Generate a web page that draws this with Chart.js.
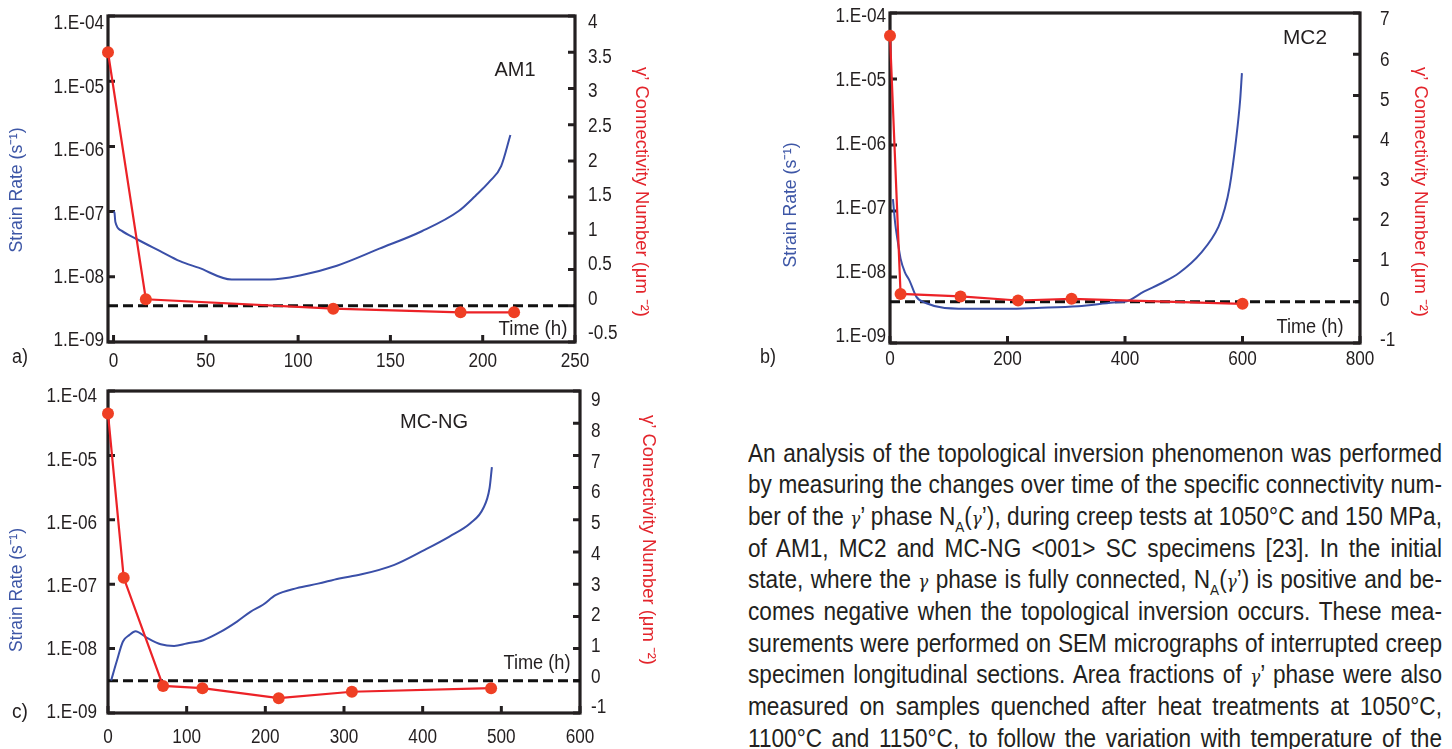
<!DOCTYPE html>
<html lang="en">
<head>
<meta charset="utf-8">
<title>Strain rate and γ’ connectivity number versus time</title>
<script src="https://cdn.jsdelivr.net/npm/chart.js@4.4.1/dist/chart.umd.min.js"></script>
<style>
  html, body { margin:0; padding:0; background:#fff; }
  body { width:1452px; height:749px; position:relative; overflow:hidden; }
  .panel { position:absolute; }
  .panel canvas { display:block; }
  #para { position:absolute; left:748px; top:0; width:694px; color:#231f20; }
  .pline { position:absolute; left:0; height:32px; line-height:32px; text-align:justify; text-align-last:justify; transform-origin:0 0; white-space:nowrap; }
  .g { font-family:"DejaVu Serif","Liberation Serif",serif; font-style:italic; font-size:0.74em; }
  sub { font-size:0.6em; vertical-align:-0.45em; line-height:0; }
</style>
</head>
<body>
<div class="panel" style="left:0;top:0"><canvas id="chartA" width="660" height="372"></canvas></div>
<div class="panel" style="left:760px;top:0"><canvas id="chartB" width="692" height="372"></canvas></div>
<div class="panel" style="left:0;top:375px"><canvas id="chartC" width="660" height="374"></canvas></div>
<div id="para"></div>
<script>
// ================= DATA =================
const alloyNames = ['AM1', 'MC2', 'MC-NG'];
const panelLetters = ['a)', 'b)', 'c)'];
const strainTitle = 'Strain Rate (s⁻¹)';
const connTitle = 'γ’ Connectivity Number (μm ⁻²)';
const timeTitle = 'Time (h)';

const rateTicks = [1e-9, 1e-8, 1e-7, 1e-6, 1e-5, 1e-4];
const rateTickLabels = ['1.E-09', '1.E-08', '1.E-07', '1.E-06', '1.E-05', '1.E-04'];

// a) AM1
const am1Time = [0, 0.5, 1, 4.3, 12.4, 25, 36, 46, 64, 85, 101, 121, 144, 167, 187, 196, 204, 210, 215];
const am1StrainRate = [1.0e-7, 9.6e-8, 6.9e-8, 5.1e-8, 3.8e-8, 2.5e-8, 1.74e-8, 1.38e-8, 9.1e-9, 9.1e-9, 1.05e-8, 1.48e-8, 2.7e-8, 5.0e-8, 1.02e-7, 1.74e-7, 2.95e-7, 5.0e-7, 1.5e-6];
const am1ConnTime = [-3, 17.5, 119, 188, 217];
const am1Conn = [3.5, 0.09, -0.04, -0.09, -0.09];
const am1TimeTicks = [0, 50, 100, 150, 200, 250];

// b) MC2
const mc2Time = [5, 9, 13, 18, 25, 33, 45, 62, 93, 150, 200, 250, 320, 380, 403, 432, 460, 492, 529, 559, 570, 578, 589, 596, 599];
const mc2StrainRate = [1.51e-7, 6.3e-8, 3.55e-8, 1.9e-8, 1.2e-8, 8.9e-9, 5.0e-9, 4.0e-9, 3.4e-9, 3.3e-9, 3.3e-9, 3.4e-9, 3.6e-9, 4.1e-9, 4.3e-9, 6.0e-9, 7.9e-9, 1.15e-8, 2.3e-8, 5.75e-8, 1.1e-7, 2.3e-7, 1.2e-6, 4.8e-6, 1.23e-5];
const mc2ConnTime = [0, 18, 120, 218, 309, 600];
const mc2Conn = [6.45, 0.19, 0.13, 0.03, 0.07, -0.05];
const mc2TimeTicks = [0, 200, 400, 600, 800];

// c) MC-NG
const mcngTime = [4, 11, 19, 27, 35, 48, 67, 84, 100, 121, 143, 164, 181, 197, 213, 240, 267, 294, 321, 364, 402, 434, 461, 477, 485, 488];
const mcngStrainRate = [3.2e-9, 6.3e-9, 1.29e-8, 1.62e-8, 1.86e-8, 1.51e-8, 1.17e-8, 1.1e-8, 1.2e-8, 1.35e-8, 1.82e-8, 2.63e-8, 3.72e-8, 4.79e-8, 6.76e-8, 8.7e-8, 1.02e-7, 1.23e-7, 1.41e-7, 2.0e-7, 3.39e-7, 5.5e-7, 8.9e-7, 1.51e-6, 3.09e-6, 6.6e-6];
const mcngConnTime = [0, 20, 70, 120, 217, 310, 487];
const mcngConn = [8.3, 3.2, -0.16, -0.23, -0.54, -0.34, -0.23];
const mcngTimeTicks = [0, 100, 200, 300, 400, 500, 600];

const paragraphLines = [
  'An analysis of the topological inversion phenomenon was performed',
  'by measuring the changes over time of the specific connectivity num-',
  'ber of the <span class="g">γ</span>’ phase N<sub>A</sub>(<span class="g">γ</span>’), during creep tests at 1050°C and 150 MPa,',
  'of AM1, MC2 and MC-NG &lt;001&gt; SC specimens [23]. In the initial',
  'state, where the <span class="g">γ</span> phase is fully connected, N<sub>A</sub>(<span class="g">γ</span>’) is positive and be-',
  'comes negative when the topological inversion occurs. These mea-',
  'surements were performed on SEM micrographs of interrupted creep',
  'specimen longitudinal sections. Area fractions of <span class="g">γ</span>’ phase were also',
  'measured on samples quenched after heat treatments at 1050°C,',
  '1100°C and 1150°C, to follow the variation with temperature of the'
];

// ================= STYLE =================
const INK = '#231f20', BLUE = '#3a4fa8', RED = '#ec2227', RED_DOT = '#ef3f24';
const BLUE_TITLE = '#3d56a6', RED_TITLE = '#e3242b';
const FAM = '"Liberation Sans", Arial, Helvetica, sans-serif';
const TICK_SIZE = 19.5, TICK_SX = 0.88;

const mctx = document.createElement('canvas').getContext('2d');
function textW(str, size) { mctx.font = size + 'px ' + FAM; return mctx.measureText(str).width; }

function drawText(ctx, str, x, y, size, sx, align, color, rot) {
  ctx.save();
  ctx.translate(x, y);
  if (rot) ctx.rotate(rot * Math.PI / 180);
  ctx.scale(sx, 1);
  ctx.font = size + 'px ' + FAM;
  ctx.fillStyle = color || INK;
  ctx.textAlign = align || 'center';
  ctx.textBaseline = 'middle';
  ctx.fillText(str, 0, 0);
  ctx.restore();
}

// ================= PLUGIN =================
const decor = {
  id: 'decor',
  beforeDatasetsDraw(chart) {
    const { ctx, chartArea: a } = chart;
    const sx = chart.scales.x, sl = chart.scales.yRate, sr = chart.scales.yConn;
    ctx.save();
    ctx.strokeStyle = INK; ctx.lineWidth = 3; ctx.beginPath();
    sl.ticks.forEach(t => { const y = sl.getPixelForValue(t.value); ctx.moveTo(a.left, y); ctx.lineTo(a.left + 7, y); });
    sr.ticks.forEach(t => { const y = sr.getPixelForValue(t.value); ctx.moveTo(a.right - 7, y); ctx.lineTo(a.right, y); });
    sx.ticks.forEach(t => { const x = sx.getPixelForValue(t.value); ctx.moveTo(x, a.bottom); ctx.lineTo(x, a.bottom - 7); });
    ctx.stroke();
    ctx.lineWidth = 3.2;
    ctx.strokeRect(a.left, a.top, a.right - a.left, a.bottom - a.top);
    ctx.restore();
  },
  afterDraw(chart) {
    const o = chart.options.plugins.decor, ctx = chart.ctx, a = chart.chartArea;
    const sx = chart.scales.x, sl = chart.scales.yRate, sr = chart.scales.yConn;
    const h = a.bottom - a.top;
    const mapY = (y, t, b) => a.top + t + (y - a.top) * (h - t - b) / h;
    sl.ticks.forEach(t => {
      const y = mapY(sl.getPixelForValue(t.value), o.lt, o.lb);
      drawText(ctx, t.label, a.left - o.padL, y, TICK_SIZE, TICK_SX, 'right');
    });
    sr.ticks.forEach(t => {
      const y = mapY(sr.getPixelForValue(t.value), o.rt, o.rb);
      drawText(ctx, t.label, a.right + o.padR, y, TICK_SIZE, TICK_SX, 'left');
    });
    sx.ticks.forEach(t => {
      drawText(ctx, t.label, sx.getPixelForValue(t.value), a.bottom + o.padX, TICK_SIZE, TICK_SX, 'center');
    });
    (o.texts || []).forEach(t => {
      const k = t.w / textW(t.str, t.size);
      drawText(ctx, t.str, t.x, t.y, t.size, k, 'center', t.color, t.rot);
    });
  }
};

function pts(xs, ys) { return xs.map((x, i) => ({ x: x, y: ys[i] })); }
function numLabel(v) { return String(+Number(v).toFixed(2)); }
function zeroPad(s) { s.paddingTop = 0; s.paddingBottom = 0; s.paddingLeft = 0; s.paddingRight = 0; }

function makeChart(p) {
  return new Chart(document.getElementById(p.id), {
    type: 'line',
    data: {
      datasets: [
        { label: connTitle, data: pts(p.ct, p.conn), yAxisID: 'yConn', borderColor: RED, backgroundColor: RED_DOT,
          pointBackgroundColor: RED_DOT, pointBorderWidth: 0, pointRadius: 6, borderWidth: 2.2, tension: 0, clip: false, order: 0 },
        { label: strainTitle, data: pts(p.t, p.rate), yAxisID: 'yRate', borderColor: BLUE, borderWidth: 2,
          pointRadius: 0, cubicInterpolationMode: 'monotone', order: 1 },
        { label: 'zero', data: [{ x: p.xMin, y: 0 }, { x: p.xMax, y: 0 }], yAxisID: 'yConn', borderColor: '#111',
          borderWidth: 3, borderDash: [10, 5], pointRadius: 0, order: 2 }
      ]
    },
    options: {
      responsive: false, animation: false, devicePixelRatio: 1,
      layout: { autoPadding: false, padding: { top: p.area.top, left: 0, right: 0, bottom: 0 } },
      plugins: {
        legend: { display: false }, tooltip: { enabled: false },
        decor: Object.assign({ texts: p.texts }, p.lab)
      },
      scales: {
        x: {
          type: 'linear', min: p.xMin, max: p.xMax,
          afterBuildTicks: s => { s.ticks = p.xTicks.map(v => ({ value: v })); },
          afterFit: s => { s.height = p.H - p.area.bottom; zeroPad(s); },
          grid: { display: false, drawTicks: false }, border: { display: false },
          ticks: { display: false, callback: v => numLabel(v) }
        },
        yRate: {
          type: 'logarithmic', position: 'left', min: 1e-9, max: 1e-4,
          afterBuildTicks: s => { s.ticks = rateTicks.map(v => ({ value: v })); },
          afterFit: s => { s.width = p.area.left; zeroPad(s); },
          grid: { display: false, drawTicks: false }, border: { display: false },
          ticks: { display: false,
            callback: v => rateTickLabels[rateTicks.findIndex(r => Math.abs(Math.log10(r) - Math.log10(v)) < 1e-6)] }
        },
        yConn: {
          type: 'linear', position: 'right', min: p.connMin, max: p.connMax,
          afterFit: s => { s.width = p.W - p.area.right; zeroPad(s); },
          grid: { display: false, drawTicks: false }, border: { display: false },
          ticks: { display: false, stepSize: p.connStep, callback: v => numLabel(v) }
        }
      }
    },
    plugins: [decor]
  });
}

makeChart({
  id: 'chartA', W: 660, H: 372, area: { left: 108, top: 16, right: 575, bottom: 342 },
  xMin: -3, xMax: 250, xTicks: am1TimeTicks, connMin: -0.5, connMax: 4, connStep: 0.5,
  t: am1Time, rate: am1StrainRate, ct: am1ConnTime, conn: am1Conn,
  lab: { padL: 4, padR: 13, padX: 20, lt: 8, lb: 1, rt: 7, rb: 8 },
  texts: [
    { str: alloyNames[0], x: 515, y: 70, w: 41, size: 21 },
    { str: timeTitle, x: 533, y: 329, w: 69, size: 21 },
    { str: panelLetters[0], x: 20, y: 357, w: 16, size: 20 },
    { str: strainTitle, x: 17, y: 190, w: 125, size: 19, rot: -90, color: BLUE_TITLE },
    { str: connTitle, x: 641, y: 192, w: 250, size: 19, rot: 90, color: RED_TITLE }
  ]
});

makeChart({
  id: 'chartB', W: 692, H: 372, area: { left: 130, top: 13, right: 600, bottom: 343 },
  xMin: 0, xMax: 800, xTicks: mc2TimeTicks, connMin: -1, connMax: 7, connStep: 1,
  t: mc2Time, rate: mc2StrainRate, ct: mc2ConnTime, conn: mc2Conn,
  lab: { padL: 4, padR: 20, padX: 17, lt: 4, lb: 6, rt: 7, rb: 2 },
  texts: [
    { str: alloyNames[1], x: 545, y: 38, w: 44, size: 21 },
    { str: timeTitle, x: 550, y: 327, w: 67, size: 21 },
    { str: panelLetters[1], x: 8, y: 357, w: 16, size: 20 },
    { str: strainTitle, x: 31, y: 205, w: 125, size: 19, rot: -90, color: BLUE_TITLE },
    { str: connTitle, x: 660, y: 192, w: 250, size: 19, rot: 90, color: RED_TITLE }
  ]
});

makeChart({
  id: 'chartC', W: 660, H: 374, area: { left: 108, top: 16, right: 580, bottom: 338 },
  xMin: 0, xMax: 600, xTicks: mcngTimeTicks, connMin: -1, connMax: 9, connStep: 1,
  t: mcngTime, rate: mcngStrainRate, ct: mcngConnTime, conn: mcngConn,
  lab: { padL: 11, padR: 11, padX: 25, lt: 6, lb: 0, rt: 10, rb: 5 },
  texts: [
    { str: alloyNames[2], x: 434, y: 47, w: 68, size: 21 },
    { str: timeTitle, x: 537, y: 288, w: 67, size: 21 },
    { str: panelLetters[2], x: 20, y: 337, w: 16, size: 20 },
    { str: strainTitle, x: 17, y: 215, w: 124, size: 19, rot: -90, color: BLUE_TITLE },
    { str: connTitle, x: 648, y: 165, w: 250, size: 19, rot: 90, color: RED_TITLE }
  ]
});

// ================= PARAGRAPH =================
(function () {
  const para = document.getElementById('para');
  const SIZE = 25, WIDTH = 694, TOP = 452.5, STEP = 31.7;
  const els = paragraphLines.map((h, i) => {
    const d = document.createElement('div');
    d.className = 'pline';
    d.innerHTML = h;
    d.style.fontFamily = FAM;
    d.style.fontSize = SIZE + 'px';
    d.style.top = (TOP + i * STEP - 16).toFixed(1) + 'px';
    para.appendChild(d);
    return d;
  });
  const widths = els.map(d => d.getBoundingClientRect().width);
  let s = Math.min(...widths.map(w => WIDTH / (w + 2)));
  s = Math.max(0.6, Math.min(1.15, s));
  els.forEach(d => {
    d.style.whiteSpace = 'normal';
    d.style.width = (WIDTH / s).toFixed(2) + 'px';
    d.style.transform = 'scaleX(' + s.toFixed(4) + ')';
  });
})();
</script>
</body>
</html>
